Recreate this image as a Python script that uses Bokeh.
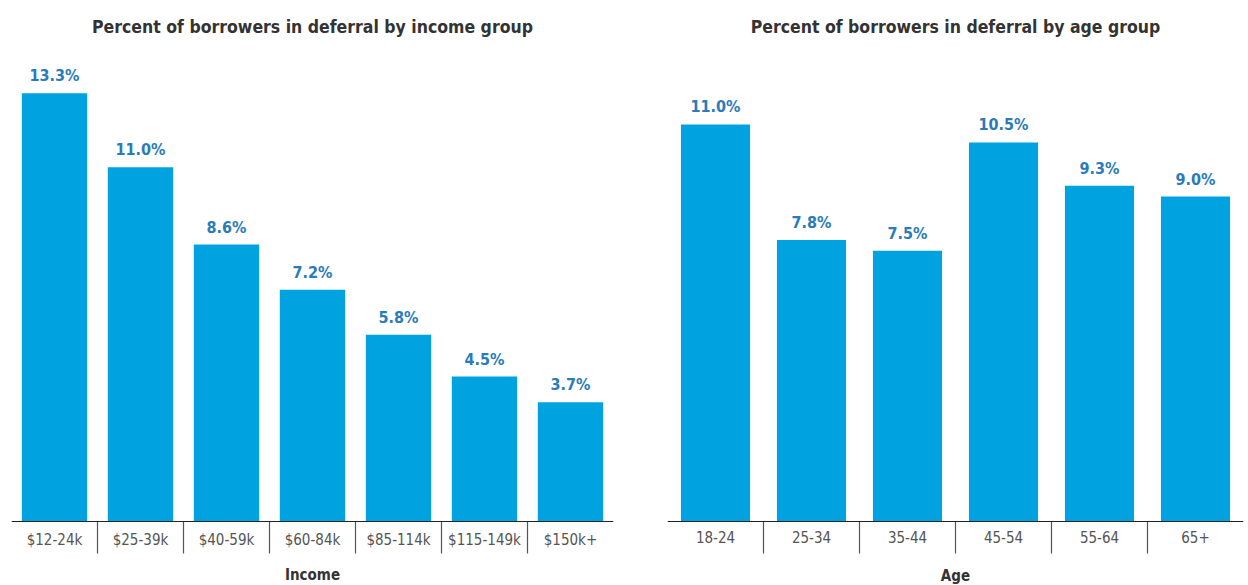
from bokeh.plotting import figure
from bokeh.layouts import row
from bokeh.models import ColumnDataSource, FactorRange, Range1d
from bokeh.transform import dodge
from bokeh.embed import file_html
from bokeh.resources import INLINE
from bokeh.core.properties import value

income_groups = ["$12-24k", "$25-39k", "$40-59k", "$60-84k", "$85-114k", "$115-149k", "$150k+"]
income_pct = [13.3, 11.0, 8.6, 7.2, 5.8, 4.5, 3.7]

age_groups = ["18-24", "25-34", "35-44", "45-54", "55-64", "65+"]
age_pct = [11.0, 7.8, 7.5, 10.5, 9.3, 9.0]

FONT = "'DejaVu Sans Condensed', 'Liberation Sans Narrow', Roboto, sans-serif"
BAR = "#00a3e0"
LBL = "#2b7bb9"

H = 585
TOP = 48


def make_chart(title, cats, vals, xlabel, scale, width, bl, br, bar_w, lab_standoff):
    frame_h = H - TOP
    above = 521 - TOP
    below = frame_h - above
    p = figure(x_range=FactorRange(*cats), y_range=Range1d(-below / scale, above / scale),
               width=width, height=H, output_backend="svg", toolbar_location=None,
               min_border_left=bl, min_border_right=br, min_border_top=TOP, min_border_bottom=0,
               title=title)
    p.title.text_font = FONT
    p.title.text_font_size = "17.5px"
    p.title.text_font_style = "bold"
    p.title.text_color = "#333333"
    p.title.align = "center"
    p.title.standoff = 24
    p.outline_line_color = None
    p.grid.visible = False
    p.yaxis.visible = False

    src = ColumnDataSource(dict(cat=cats, val=vals, lab=[f"{v:.1f}%" for v in vals]))
    p.vbar(x="cat", top="val", bottom=0, width=bar_w, source=src, color=BAR, line_color=None)
    p.text(x="cat", y="val", text="lab", source=src, text_align="center", text_baseline="bottom",
           y_offset=-8, text_font=value(FONT), text_font_size="16px", text_font_style="bold",
           text_color=LBL)

    sep_len = 32 / scale
    sep = ColumnDataSource(dict(cat=cats[:-1]))
    p.segment(x0=dodge("cat", 0.5, range=p.x_range), x1=dodge("cat", 0.5, range=p.x_range),
              y0=0, y1=-sep_len, source=sep, line_color="#555555", line_width=1.2)

    ax = p.xaxis[0]
    ax.fixed_location = 0
    ax.axis_line_color = "#222222"
    ax.axis_line_width = 1.2
    ax.major_tick_line_color = None
    ax.minor_tick_line_color = None
    ax.major_label_text_font = FONT
    ax.major_label_text_font_size = "15px"
    ax.major_label_text_color = "#555555"
    ax.major_label_standoff = 3
    ax.axis_label = xlabel
    ax.axis_label_text_font = FONT
    ax.axis_label_text_font_size = "15px"
    ax.axis_label_text_font_style = "bold"
    ax.axis_label_text_color = "#333333"
    ax.axis_label_standoff = lab_standoff
    p.x_range.range_padding = 0
    return p


left_scale = 32.2
right_scale = 36.1
p1 = make_chart("Percent of borrowers in deferral by income group", income_groups, income_pct, "Income",
                left_scale, 638, 11, 25, 0.76, 14)
p2 = make_chart("Percent of borrowers in deferral by age group", age_groups, age_pct, "Age",
                right_scale, 610, 29, 5, 0.72, 21)

layout = row(p1, p2)
open("out.html", "w").write(file_html(layout, INLINE))
